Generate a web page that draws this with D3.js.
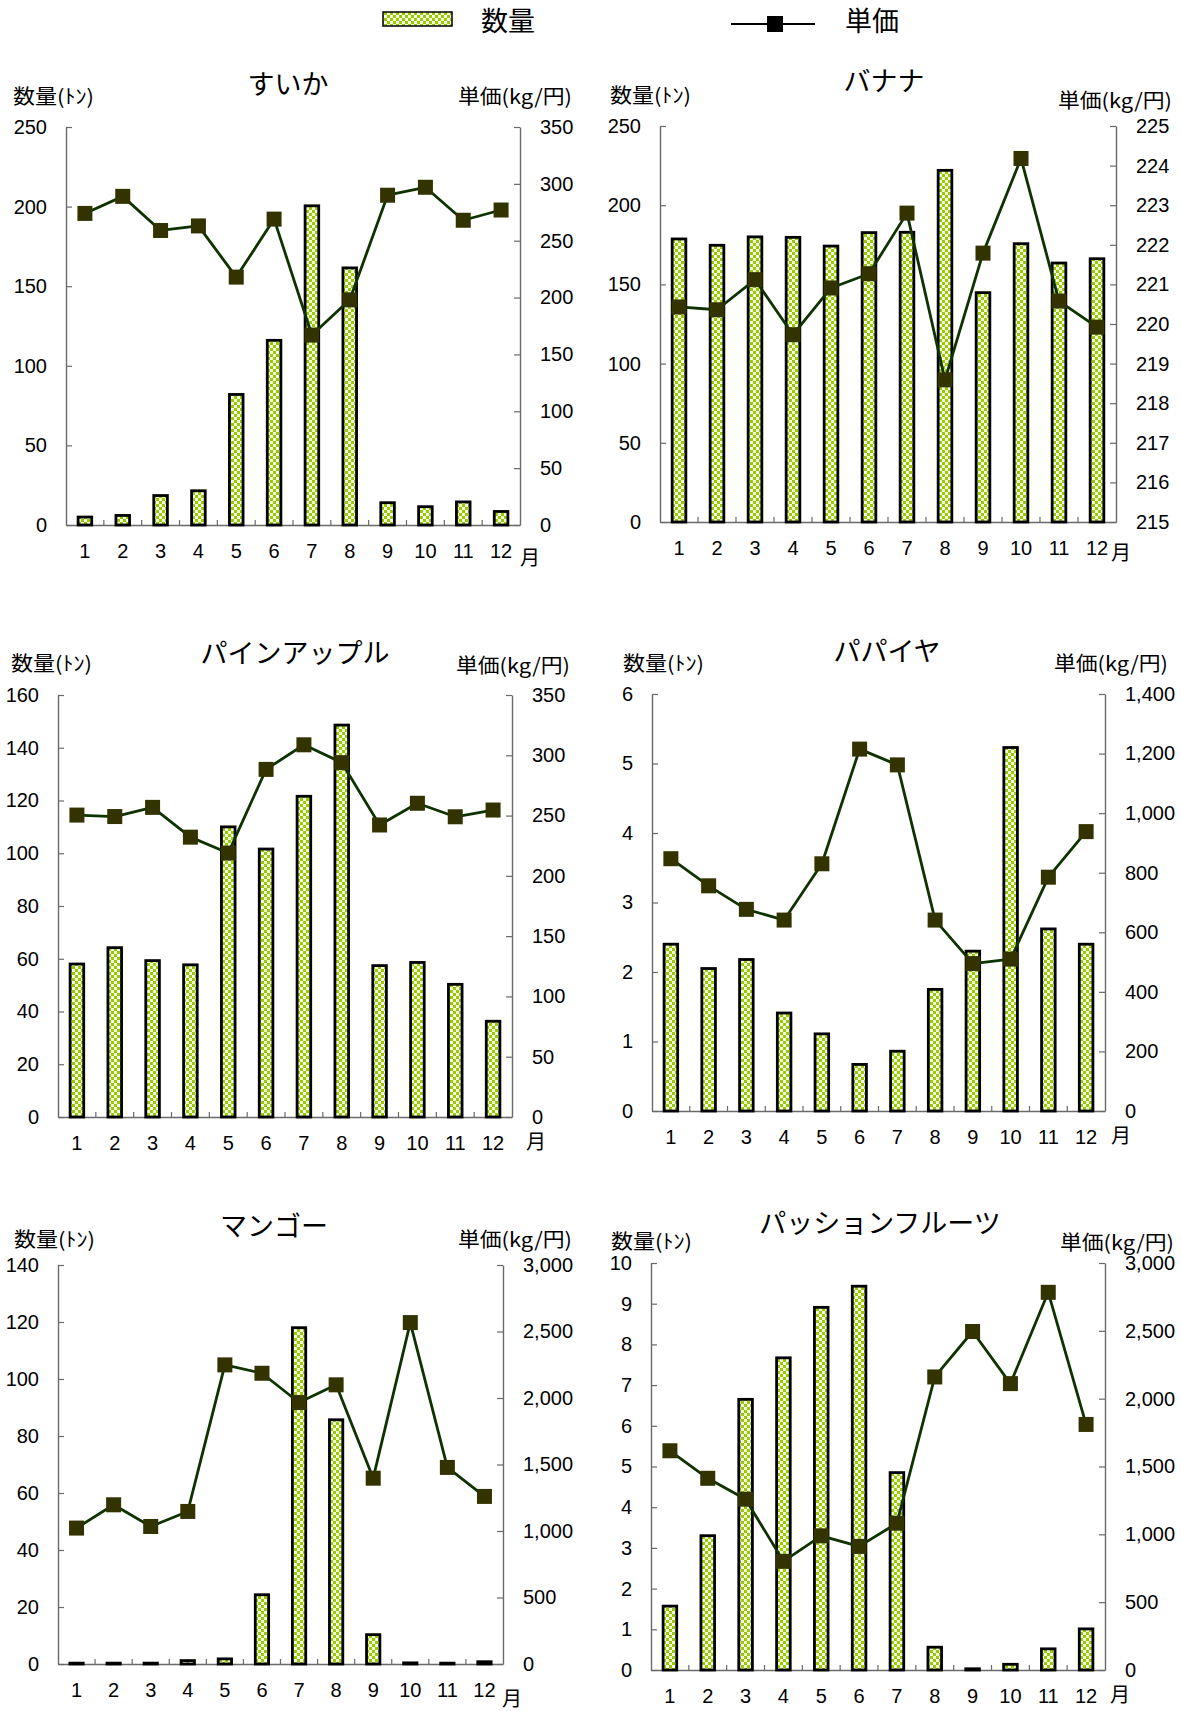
<!DOCTYPE html>
<html><head><meta charset="utf-8">
<script src="https://cdn.jsdelivr.net/npm/d3@7"></script>
<style>
html,body{margin:0;padding:0;background:#fff;}
svg{display:block;}
</style></head>
<body>
<script>
// ---------- DATA ----------
const months = [1,2,3,4,5,6,7,8,9,10,11,12];
const fruitNames = ["すいか","バナナ","パインアップル","パパイヤ","マンゴー","パッションフルーツ"];
const legendLabels = ["数量","単価"];
const qtyAxisTitle = "数量(ﾄﾝ)";
const priceAxisTitle = "単価(kg/円)";
const monthUnit = "月";

const suikaQty    = [5, 6, 18.5, 21.5, 82, 116, 200.5, 161.5, 14, 11.5, 14.5, 8.5];
const suikaPrice  = [274, 289, 259, 263, 218, 269, 167, 198, 290, 297, 268, 277];
const bananaQty   = [178.7, 174.7, 180, 179.7, 174.2, 182.7, 182.9, 222, 144.8, 175.7, 163.5, 166.2];
const bananaPrice = [220.43, 220.36, 221.12, 219.73, 220.91, 221.27, 222.8, 218.59, 221.79, 224.18, 220.58, 219.92];
const pineQty     = [58, 64.2, 59.3, 57.7, 110, 101.6, 121.6, 148.6, 57.4, 58.6, 50.3, 36.3];
const pinePrice   = [250.4, 249.2, 256.8, 232.1, 218.9, 288.3, 308.7, 293.9, 242.2, 260.2, 249, 254.6];
const papayaQty   = [2.40, 2.05, 2.18, 1.41, 1.11, 0.67, 0.86, 1.75, 2.30, 5.23, 2.62, 2.40];
const papayaPrice = [847, 756, 677, 641, 830, 1215, 1162, 641, 495, 510, 785, 938];
const mangoQty    = [0.3, 0.3, 0.3, 1.2, 1.8, 24.3, 118, 85.7, 10.3, 0.4, 0.3, 0.8];
const mangoPrice  = [1022, 1197, 1034, 1147, 2249, 2186, 1966, 2099, 1397, 2567, 1478, 1260];
const passionQty  = [1.57, 3.30, 6.65, 7.67, 8.91, 9.43, 4.85, 0.56, 0.03, 0.14, 0.52, 1.01];
const passionPrice= [1616, 1413, 1259, 801, 989, 911, 1082, 2160, 2495, 2111, 2784, 1810];

const suikaQtyTicks    = [0,50,100,150,200,250];
const suikaPriceTicks  = [0,50,100,150,200,250,300,350];
const bananaQtyTicks   = [0,50,100,150,200,250];
const bananaPriceTicks = [215,216,217,218,219,220,221,222,223,224,225];
const pineQtyTicks     = [0,20,40,60,80,100,120,140,160];
const pinePriceTicks   = [0,50,100,150,200,250,300,350];
const papayaQtyTicks   = [0,1,2,3,4,5,6];
const papayaPriceTicks = [0,200,400,600,800,1000,1200,1400];
const mangoQtyTicks    = [0,20,40,60,80,100,120,140];
const mangoPriceTicks  = [0,500,1000,1500,2000,2500,3000];
const passionQtyTicks  = [0,1,2,3,4,5,6,7,8,9,10];
const passionPriceTicks= [0,500,1000,1500,2000,2500,3000];

// ---------- LAYOUT ----------
const panels = [
  {name:fruitNames[0], qty:suikaQty, price:suikaPrice, qT:suikaQtyTicks, pT:suikaPriceTicks, comma:false,
   x0:66, x1:520, y0:127, y1:525, tx:288, ty:84, qx:13, qy:97, px:572, py:97, mx:530, my:558},
  {name:fruitNames[1], qty:bananaQty, price:bananaPrice, qT:bananaQtyTicks, pT:bananaPriceTicks, comma:false,
   x0:660, x1:1116, y0:126, y1:522, tx:884, ty:81, qx:610, qy:96, px:1172, py:101, mx:1121, my:553},
  {name:fruitNames[2], qty:pineQty, price:pinePrice, qT:pineQtyTicks, pT:pinePriceTicks, comma:false,
   x0:58, x1:512, y0:695, y1:1117, tx:295, ty:653, qx:11, qy:664, px:570, py:666, mx:536, my:1142},
  {name:fruitNames[3], qty:papayaQty, price:papayaPrice, qT:papayaQtyTicks, pT:papayaPriceTicks, comma:true,
   x0:652, x1:1105, y0:694, y1:1111, tx:887, ty:651, qx:623, qy:664, px:1168, py:664, mx:1121, my:1136},
  {name:fruitNames[4], qty:mangoQty, price:mangoPrice, qT:mangoQtyTicks, pT:mangoPriceTicks, comma:true,
   x0:58, x1:503, y0:1265, y1:1664, tx:274, ty:1226, qx:14, qy:1240, px:572, py:1240, mx:512, my:1699},
  {name:fruitNames[5], qty:passionQty, price:passionPrice, qT:passionQtyTicks, pT:passionPriceTicks, comma:true,
   x0:651, x1:1105, y0:1263, y1:1670, tx:880, ty:1223, qx:611, qy:1242, px:1174, py:1243, mx:1120, my:1695}
];

const NUM_FONT = "'Liberation Sans', Arial, sans-serif";
const JP_FONT = "'Noto Sans CJK JP', 'Noto Sans', sans-serif";
const GREEN = "#99cc00";
const LIGHT = "#f6fbe8";
const LINE_COLOR = "#0f3300";
const MARK_COLOR = "#333300";
const AXIS_COLOR = "#6a6a6a";

const W = 1181, H = 1711;
const svg = d3.select("body").append("svg").attr("width", W).attr("height", H)
  .style("font-family", NUM_FONT);

// checker pattern
const defs = svg.append("defs");
const pat = defs.append("pattern").attr("id","checker").attr("patternUnits","userSpaceOnUse")
  .attr("width",6).attr("height",6);
pat.append("rect").attr("width",6).attr("height",6).attr("fill",LIGHT);
pat.append("rect").attr("x",0).attr("y",0).attr("width",3).attr("height",3).attr("fill",GREEN);
pat.append("rect").attr("x",3).attr("y",3).attr("width",3).attr("height",3).attr("fill",GREEN);

// ---------- LEGEND ----------
const lg = svg.append("g");
lg.append("rect").attr("x",383).attr("y",12).attr("width",69).attr("height",14)
  .attr("fill","url(#checker)").attr("stroke","#000").attr("stroke-width",1.5);
lg.append("text").attr("x",481).attr("y",21).attr("dy","0.36em")
  .style("font-family",JP_FONT).style("font-size","27px").text(legendLabels[0]);
lg.append("line").attr("x1",731).attr("x2",815).attr("y1",24).attr("y2",24)
  .attr("stroke","#000").attr("stroke-width",2);
lg.append("rect").attr("x",767).attr("y",16).attr("width",16).attr("height",16).attr("fill","#000");
lg.append("text").attr("x",845).attr("y",21).attr("dy","0.36em")
  .style("font-family",JP_FONT).style("font-size","27px").text(legendLabels[1]);

// ---------- PANELS ----------
panels.forEach(p => {
  const g = svg.append("g");
  const x = d3.scaleBand().domain(months).range([p.x0, p.x1]).paddingInner(0).paddingOuter(0);
  const yL = d3.scaleLinear().domain([p.qT[0], p.qT[p.qT.length-1]]).range([p.y1, p.y0]);
  const yR = d3.scaleLinear().domain([p.pT[0], p.pT[p.pT.length-1]]).range([p.y1, p.y0]);
  const fmt = p.comma ? d3.format(",") : d3.format("d");

  const la = g.append("g").attr("transform",`translate(${p.x0},0)`)
    .call(d3.axisLeft(yL).tickValues(p.qT).tickSizeInner(-6).tickSizeOuter(0).tickPadding(19).tickFormat(d3.format("d")));
  const ra = g.append("g").attr("transform",`translate(${p.x1},0)`)
    .call(d3.axisRight(yR).tickValues(p.pT).tickSizeInner(-6).tickSizeOuter(0).tickPadding(20).tickFormat(fmt));
  const ba = g.append("g").attr("transform",`translate(0,${p.y1})`)
    .call(d3.axisBottom(x).tickSize(0).tickSizeOuter(0).tickPadding(19));
  g.selectAll("line.bt").data(months.slice(1)).join("line").attr("class","bt")
    .attr("x1", d => x(d)).attr("x2", d => x(d)).attr("y1", p.y1).attr("y2", p.y1 - 5)
    .attr("stroke", AXIS_COLOR).attr("stroke-width",1.2);

  [la, ra, ba].forEach(a => {
    a.selectAll("path.domain").attr("stroke", AXIS_COLOR).attr("stroke-width",1.4);
    a.selectAll(".tick line").attr("stroke", AXIS_COLOR).attr("stroke-width",1.2);
    a.selectAll("text").attr("fill","#000").style("font-size","20px").style("font-family",NUM_FONT);
  });

  const bw = x.bandwidth() * 0.36;
  g.selectAll("rect.bar").data(p.qty).join("rect").attr("class","bar")
    .attr("x", (d,i) => x(months[i]) + x.bandwidth()/2 - bw/2)
    .attr("y", d => yL(d))
    .attr("width", bw)
    .attr("height", d => yL(0) - yL(d))
    .attr("fill","url(#checker)").attr("stroke","#000").attr("stroke-width",2.8);

  const line = d3.line().x((d,i) => x(months[i]) + x.bandwidth()/2).y(d => yR(d));
  g.append("path").datum(p.price).attr("d", line).attr("fill","none")
    .attr("stroke", LINE_COLOR).attr("stroke-width",2.8).attr("stroke-linejoin","round");
  const ms = 15;
  g.selectAll("rect.mk").data(p.price).join("rect").attr("class","mk")
    .attr("x", (d,i) => x(months[i]) + x.bandwidth()/2 - ms/2)
    .attr("y", d => yR(d) - ms/2)
    .attr("width", ms).attr("height", ms).attr("fill", MARK_COLOR);

  g.append("text").attr("x", p.tx).attr("y", p.ty).attr("dy","0.36em").attr("text-anchor","middle")
    .style("font-family",JP_FONT).style("font-size","27px").text(p.name);
  g.append("text").attr("x", p.qx).attr("y", p.qy).attr("dy","0.36em")
    .attr("textLength",81).attr("lengthAdjust","spacingAndGlyphs")
    .style("font-family",JP_FONT).style("font-size","20px").text(qtyAxisTitle);
  g.append("text").attr("x", p.px - 114).attr("y", p.py).attr("dy","0.36em")
    .attr("textLength",114).attr("lengthAdjust","spacingAndGlyphs")
    .style("font-family",JP_FONT).style("font-size","20px").text(priceAxisTitle);
  g.append("text").attr("x", p.mx).attr("y", p.my).attr("dy","0.36em")
    .attr("text-anchor","middle")
    .style("font-family",JP_FONT).style("font-size","20px").text(monthUnit);
});
</script>
</body></html>
